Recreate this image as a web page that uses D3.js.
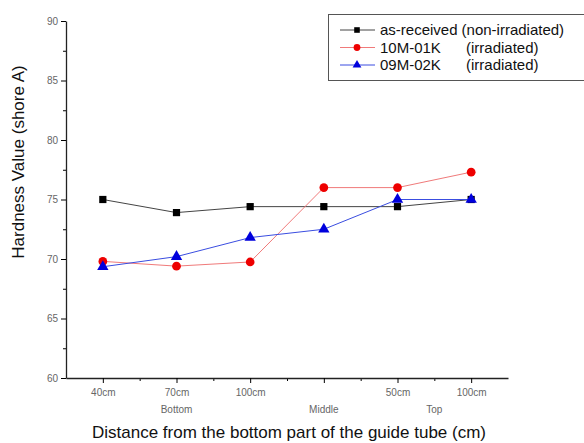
<!DOCTYPE html>
<html>
<head>
    <meta charset="utf-8">
    <script src="https://d3js.org/d3.v7.min.js"></script>
    <style>
        body { margin: 0; background: #fff; }
        .tick text { font-family: Arial, 'Liberation Sans', sans-serif; font-size: 10px; fill: #666; }
    </style>
</head>
<body>
    <div id="chart"></div>
</body>
<script>
    // categories along the tube and the zone labels under them
    var positions = ["40cm", "70cm", "100cm", "", "50cm", "100cm"];
    var zones = [
        { name: "Bottom", at: 1 },
        { name: "Middle", at: 3 },
        { name: "Top", at: 4.5 }
    ];

    // hardness values (shore A)
    var asReceived = [75, 73.9, 74.4, 74.4, 74.4, 75];
    var m10_01K = [69.8, 69.4, 69.75, 76, 76, 77.3];
    var m09_02K = [69.35, 70.2, 71.8, 72.5, 75, 75];

    var yMajor = [60, 65, 70, 75, 80, 85, 90];

    var series = [
        { name: "as-received", note: "(non-irradiated)", values: asReceived, line: "#444", color: "#000", symbol: d3.symbolSquare, size: 52 },
        { name: "10M-01K", note: "(irradiated)", values: m10_01K, line: "#f07a7a", color: "#ee0000", symbol: d3.symbolCircle, size: 60 },
        { name: "09M-02K", note: "(irradiated)", values: m09_02K, line: "#3a4de0", color: "#0000dd", symbol: d3.symbolTriangle, size: 56 }
    ];

    var W = 584, H = 443;
    var svg = d3.select("#chart").append("svg")
        .attr("width", W).attr("height", H);

    var x = d3.scaleLinear().domain([-0.5, positions.length - 0.5]).range([66, 508]);
    var y = d3.scaleLinear().domain([60, 90]).range([378, 21]);

    // y axis, major + minor ticks
    svg.append("g")
        .attr("transform", "translate(66,0)")
        .call(d3.axisLeft(y).tickValues(d3.range(62.5, 90, 5)).tickSize(3).tickFormat(""))
        .call(function (g) { g.select(".domain").remove(); });
    svg.append("g")
        .attr("transform", "translate(66,0)")
        .call(d3.axisLeft(y).tickValues(yMajor).tickSize(5).tickSizeOuter(0).tickPadding(3))
        .call(function (g) { g.select(".domain").attr("stroke", "#222").attr("stroke-width", 1.3); });

    // x axis
    svg.append("g")
        .attr("transform", "translate(0,378)")
        .call(d3.axisBottom(x).tickValues(d3.range(0.5, 5.5, 1)).tickSize(3).tickFormat(""))
        .call(function (g) { g.select(".domain").remove(); });
    svg.append("g")
        .attr("transform", "translate(0,378)")
        .call(d3.axisBottom(x).tickValues(d3.range(positions.length)).tickSize(5).tickSizeOuter(0).tickPadding(6)
            .tickFormat(function (i) { return positions[i]; }))
        .call(function (g) { g.select(".domain").attr("stroke", "#222").attr("stroke-width", 1.3); });

    svg.selectAll(".zone")
        .data(zones).enter()
        .append("text")
        .attr("class", "zone")
        .attr("x", function (d) { return x(d.at); })
        .attr("y", 413)
        .attr("text-anchor", "middle")
        .style("font-family", "Arial, sans-serif")
        .style("font-size", "10px")
        .style("fill", "#666")
        .text(function (d) { return d.name; });

    // axis titles
    svg.append("text")
        .attr("x", 289).attr("y", 438)
        .attr("text-anchor", "middle")
        .style("font-family", "Arial, sans-serif")
        .style("font-size", "17px")
        .style("fill", "#111")
        .text("Distance from the bottom part of the guide tube (cm)");
    svg.append("text")
        .attr("transform", "translate(24,162) rotate(-90)")
        .attr("text-anchor", "middle")
        .style("font-family", "Arial, sans-serif")
        .style("font-size", "17px")
        .style("fill", "#111")
        .text("Hardness Value (shore A)");

    // lines and markers
    var line = d3.line()
        .x(function (d, i) { return x(i); })
        .y(function (d) { return y(d); });

    series.forEach(function (s) {
        svg.append("path")
            .attr("d", line(s.values))
            .attr("fill", "none")
            .attr("stroke", s.line)
            .attr("stroke-width", 1);
        svg.selectAll(null)
            .data(s.values).enter()
            .append("path")
            .attr("d", d3.symbol().type(s.symbol).size(s.size))
            .attr("transform", function (d, i) { return "translate(" + x(i) + "," + y(d) + ")"; })
            .attr("fill", s.color);
    });

    // legend
    var lg = svg.append("g");
    lg.append("rect")
        .attr("x", 328.5).attr("y", 14.5)
        .attr("width", 260).attr("height", 66)
        .attr("fill", "#fff")
        .attr("stroke", "#555");
    series.forEach(function (s, i) {
        var ly = 30 + i * 17.5;
        lg.append("line")
            .attr("x1", 340).attr("x2", 375)
            .attr("y1", ly).attr("y2", ly)
            .attr("stroke", s.line);
        lg.append("path")
            .attr("d", d3.symbol().type(s.symbol).size(s.size * 0.6))
            .attr("transform", "translate(357," + ly + ")")
            .attr("fill", s.color);
        var t = lg.append("text")
            .attr("x", 380).attr("y", ly + 5)
            .style("font-family", "Arial, sans-serif")
            .style("font-size", "15px")
            .style("fill", "#111")
            .text(s.name);
        lg.append("text")
            .attr("x", i === 0 ? 380 + t.node().getComputedTextLength() + 4 : 466).attr("y", ly + 5)
            .style("font-family", "Arial, sans-serif")
            .style("font-size", "15px")
            .style("fill", "#111")
            .text(s.note);
    });
</script>
</html>
